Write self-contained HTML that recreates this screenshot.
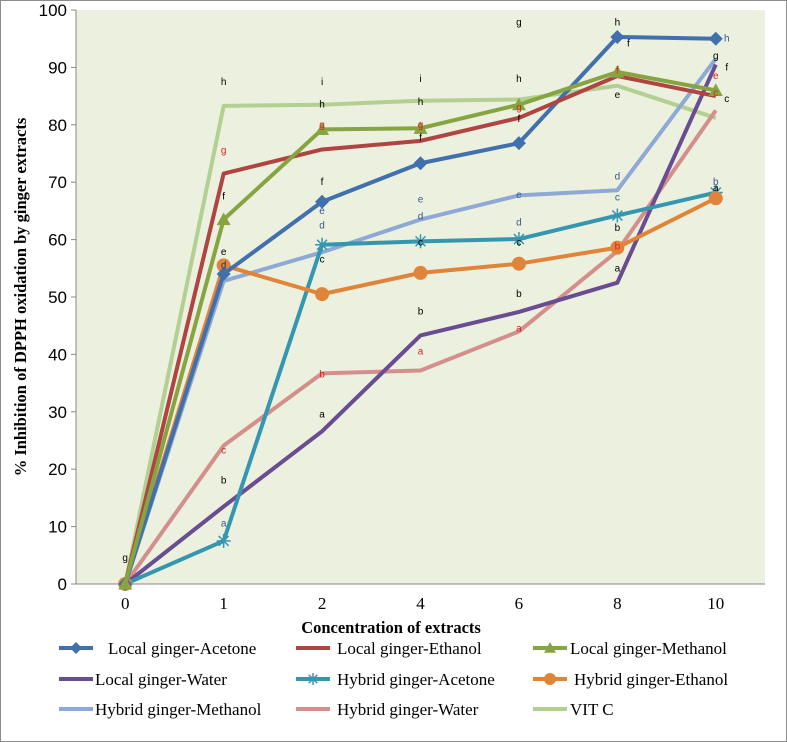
<!DOCTYPE html>
<html><head><meta charset="utf-8"><style>
body{margin:0;background:#fff}
svg{display:block}
.tk{font-family:"Liberation Sans",sans-serif;font-size:17px;fill:#000}
.xt{font-family:"Liberation Serif",serif;font-size:17px;fill:#000}
.lg{font-family:"Liberation Serif",serif;font-size:17px;fill:#000}
.an{font-family:"Liberation Sans",sans-serif;font-size:10px}
</style></head><body>
<svg id="chart" width="787" height="742">
<rect x="0.5" y="0.5" width="786" height="741" fill="#fff" stroke="#8c8c8c"/>
<rect x="76" y="10" width="689" height="574" fill="#ebf0df"/>
<g id="axes"></g><g id="series"></g><g id="ann"></g><g id="legend"></g>
<text x="391" y="633" text-anchor="middle" font-family="Liberation Serif,serif" font-weight="bold" font-size="16.5">Concentration of extracts</text>
<text transform="translate(26,297) rotate(-90)" text-anchor="middle" font-family="Liberation Serif,serif" font-weight="bold" font-size="16.5">% Inhibition of DPPH oxidation by ginger extracts</text>
</svg>
<script>
const categories=["0","1","2","4","6","8","10"];
const yTicks=[0,10,20,30,40,50,60,70,80,90,100];
const seriesNames=["Local ginger-Acetone","Local ginger-Ethanol","Local ginger-Methanol","Local ginger-Water","Hybrid ginger-Acetone","Hybrid ginger-Ethanol","Hybrid ginger-Methanol","Hybrid ginger-Water","VIT C"];
const localAcetone=[0,54,66.6,73.3,76.8,95.3,95.0];
const localEthanol=[0,71.5,75.7,77.2,81.2,88.5,85.0];
const localMethanol=[0,63.5,79.2,79.4,83.5,89.2,86.0];
const localWater=[0,13.5,26.6,43.3,47.4,52.5,90.5];
const hybridAcetone=[0,7.5,59.1,59.7,60.1,64.2,68.2];
const hybridEthanol=[0,55.5,50.5,54.2,55.8,58.6,67.2];
const hybridMethanol=[0,52.8,57.8,63.5,67.7,68.6,91.5];
const hybridWater=[0,24.1,36.7,37.2,44.0,58.0,82.5];
const vitC=[0,83.3,83.5,84.2,84.4,86.8,81.2];
const seriesValues=[localAcetone,localEthanol,localMethanol,localWater,hybridAcetone,hybridEthanol,hybridMethanol,hybridWater,vitC];
const annCats=[0,1,1,1,1,1,1,1,1,1,2,2,2,2,2,2,2,2,2,3,3,3,3,3,3,3,3,3,4,4,4,4,4,4,4,4,4,5,5,5,5,5,5,5,5,5,6,6,6,6,6,6,6,6,6,6];
const annVals=[4.5,87.5,75.5,67.5,57.8,55.5,55.5,23.3,18,10.5,87.5,83.5,80,70,65,62.5,56.5,36.5,29.5,88,84,80,77.7,67,64,59.5,47.5,40.5,88,83,81,67.8,63,59.5,50.5,44.5,97.8,94.2,89.5,85.2,71,67.3,62,58.8,55,97.8,95,92,90,88.5,85.5,84.5,70,69];
const annText=["g","h","g","f","e","d","d","c","b","a","i","h","g","f","e","d","c","b","a","i","h","g","f","e","d","c","b","a","h","g","f","e","d","c","b","a","g","f","f","e","d","c","b","b","a","h","h","g","f","e","c","c","b","a"];
const colors=["#4170ad","#b04440","#86a541","#6a4c91","#3596b0","#e0843a","#8fa9d7","#d48f8c","#b3cf92"];
const markers=["diamond","none","triangle","none","star","circle","none","none","none"];
const ns="http://www.w3.org/2000/svg";
const X0=76,BW=689/7,Y0=584,YS=5.74;
function xs(i){return X0+BW*(i+0.5);}
function ys(v){return Y0-v*YS;}
function mk(t,a,p){const e=document.createElementNS(ns,t);for(const k in a)e.setAttribute(k,a[k]);p.appendChild(e);return e;}
const axes=document.getElementById('axes');
const yl=mk('line',{x1:X0,y1:10,x2:X0,y2:Y0,stroke:'#888'},axes);


const xl=mk('line',{x1:X0,y1:Y0,x2:765,y2:Y0,stroke:'#888'},axes);


yTicks.forEach(v=>{mk('line',{x1:X0-5,y1:ys(v),x2:X0,y2:ys(v),stroke:'#888'},axes);
const t=mk('text',{x:X0-9,y:ys(v)+6,'text-anchor':'end',class:'tk'},axes);t.textContent=v;

});
categories.forEach((c,i)=>{const t=mk('text',{x:xs(i),y:Y0+25,'text-anchor':'middle',class:'xt'},axes);t.textContent=c;

});
function marker(g,type,x,y,col,s){
if(type==='diamond')mk('polygon',{points:`${x},${y-s} ${x+s},${y} ${x},${y+s} ${x-s},${y}`,fill:col},g);
else if(type==='triangle')mk('polygon',{points:`${x},${y-s} ${x+s},${y+s*0.8} ${x-s},${y+s*0.8}`,fill:col},g);
else if(type==='circle')mk('circle',{cx:x,cy:y,r:s,fill:col},g);
else if(type==='star'){for(let a=0;a<4;a++){const an=a*Math.PI/4;mk('line',{x1:x-s*Math.cos(an),y1:y-s*Math.sin(an),x2:x+s*Math.cos(an),y2:y+s*Math.sin(an),stroke:col,'stroke-width':1.5},g);}}
}
const sg=document.getElementById('series');
const order=[8,7,6,3,4,5,0,1,2];
order.forEach(si=>{const g=mk('g',{},sg);


const vals=seriesValues[si];
mk('polyline',{points:vals.map((v,i)=>xs(i)+','+ys(v)).join(' '),fill:'none',stroke:colors[si],'stroke-width':4,'stroke-linejoin':'round'},g);
vals.forEach((v,i)=>marker(g,markers[si],xs(i),ys(v),colors[si],7));});
const ag=document.getElementById('ann');
const redSet=new Set([2,7,12,17,21,27,29,35,38,43,49,50]);
const blueSet=new Set([6,9,14,15,23,24,31,32,40,41,46,52]);
const shift=new Set([37,46,48,51]);
annCats.forEach((c,k)=>{const t=mk('text',{x:xs(c)+(shift.has(k)?11:0),y:ys(annVals[k])+3,'text-anchor':'middle',class:'an',fill:redSet.has(k)?'#e02020':blueSet.has(k)?'#3a5a90':'#000'},ag);t.textContent=annText[k];

});
const lg=document.getElementById('legend');
const colX=[59,296,533];
const textX=[[108,337,570],[95,337,574],[95,337,570]];
const rowY=[648,679,709];
seriesNames.forEach((n,i)=>{const r=Math.floor(i/3),c=i%3;const g=mk('g',{},lg);


const y=rowY[r];mk('line',{x1:colX[c],y1:y,x2:colX[c]+34,y2:y,stroke:colors[i],'stroke-width':4},g);
marker(g,markers[i],colX[c]+17,y,colors[i],6);
const t=mk('text',{x:textX[r][c],y:y+6,class:'lg'},g);t.textContent=n;});
</script>
</body></html>
